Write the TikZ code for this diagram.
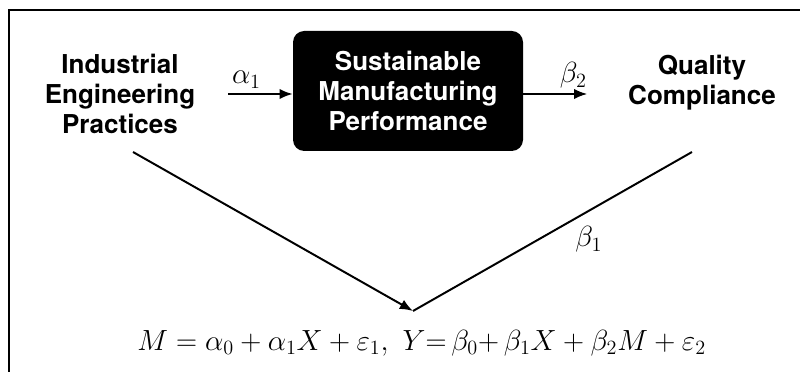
\documentclass[tikz,border=0pt]{standalone}
\usepackage{amsmath, amssymb}
\usepackage{fontspec}
\newfontfamily\heros{TeX Gyre Heros}
\usepackage{xcolor}
\usetikzlibrary{calc,arrows.meta}

\begin{document}
\begin{tikzpicture}[
  >={Latex[length=3.3mm,width=2.6mm]},
  varlabel/.style={font=\heros\bfseries\fontsize{18.5}{21.5}\selectfont,align=center},
  medbox/.style={varlabel,fill=black,text=white,rounded corners=8pt,
    minimum width=5.75cm,minimum height=3cm},
  path/.style={line width=1.4pt,black},
  coef/.style={font=\fontsize{21}{24}\selectfont}
]
\useasboundingbox (0,0) rectangle (20,9.3);
% frame (cropped)
\draw[line width=1pt] (0.225,0) -- (0.225,9.05) -- (20,9.05);
\node[varlabel] (iep) at (3.0,6.95) {Industrial\\Engineering\\Practices};
\node[medbox] (smp) at (10.2,7.025) {Sustainable\\Manufacturing\\Performance};
\node[varlabel] (qc) at (17.55,7.225) {Quality\\Compliance};
\coordinate (ieptail) at (3.325,5.5);
\coordinate (qctail) at (17.3,5.5);
\coordinate (v) at (10.325,1.525);
\draw[path,->,shorten <=0.7cm] (iep.east) -- node[coef,above=0pt] {$\alpha_1$} (smp.west |- iep.east);
\draw[path,->,shorten >=0.9cm] (smp.east |- iep.east) -- node[coef,above=0pt] {$\beta_2$} (qc.west |- iep.east);
\draw[path,->] (ieptail) -- (v);
\draw[path] (qctail) -- node[coef,pos=0.37,below=0.25cm] {$\beta_1$} (v);
\node[font=\fontsize{21.8}{26}\selectfont] (eq) at (10.54,0.72)
  {$M = \alpha_0 + \alpha_1 X + \varepsilon_1,\ Y{=}\,\beta_0{+}\,\beta_1 X + \beta_2 M + \varepsilon_2$};
\end{tikzpicture}
\end{document}
